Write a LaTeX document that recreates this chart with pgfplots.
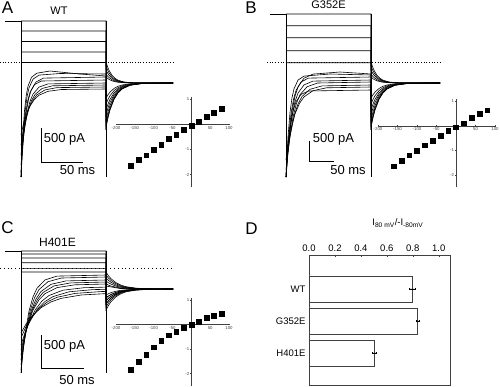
\documentclass[border=0pt]{standalone}
\usepackage{pgfplots}
\pgfplotsset{compat=1.18}
\usepackage{fontspec}
\setmainfont{Liberation Sans}
\begin{document}
\begin{tikzpicture}
\pgfplotsset{
  tr/.style={black, line width=0.6pt},
  iv/.style={anchor=south west, scale only axis, xmin=-200, xmax=100, ymin=-2.5, ymax=1.1,
    axis lines=middle, axis line style={-, line width=0.4pt, black!75},
    xtick={-200,-150,...,100}, ytick={-2,-1,0,1},
    tick style={black!75, line width=0.3pt}, major tick length=1.8pt,
    ticklabel style={font=\fontsize{4.3}{4.3}\selectfont, text=black!75, inner sep=1pt},
    /pgf/number format/assume math mode=true, clip=false},
  ivm/.style={only marks, mark=square*, mark size=2.4pt, black}
}
% ---------- traces (pixel coordinates) ----------
\begin{axis}[at={(0pt,0pt)}, anchor=south west, scale only axis, width=500pt, height=386pt,
  xmin=0, xmax=500, ymin=0, ymax=386, y dir=reverse, hide axis, clip=false]
% ===== Panel A =====
\addplot[black, line width=1pt] coordinates {(5,21)(21,21)};
\addplot[tr] coordinates {(21,21)(21,177)};
\addplot[tr] coordinates {(106,21)(106,177)};
\addplot[black, dotted, line width=0.7pt] coordinates {(0,62.5)(173,62.5)};
\addplot[tr] coordinates {(21,21)(106,21)(106,62)(107.5,66.6)(109,70.3)(112,75.3)(115,78.3)(118,80.2)(124,82)(133,82.8)(173,83)};
\addplot[tr] coordinates {(21,31)(106,31)(106,66)(107.5,69.8)(109,72.7)(112,76.7)(115,79.2)(118,80.7)(124,82.2)(133,82.8)(173,83)};
\addplot[tr] coordinates {(21,41.5)(106,41.5)(106,70)(107.5,72.9)(109,75.1)(112,78.2)(115,80.1)(118,81.2)(124,82.4)(133,82.9)(173,83)};
\addplot[tr] coordinates {(21,52)(106,52)(106,74)(107.5,76)(109,77.5)(112,79.7)(115,81)(118,81.8)(124,82.6)(133,82.9)(173,83)};
\addplot[tr] coordinates {(21,62.5)(106,62.5)(106,77)(107.5,78.3)(109,79.4)(112,80.8)(115,81.7)(118,82.2)(124,82.7)(133,82.9)(173,83)};
\addplot[tr] coordinates {(21,177)(22,154.2)(23,136.5)(25,111.9)(27,97)(29,87.9)(33,79.2)(39,75.1)(60,73.5)(106,74)(106,127)(108,117.3)(110,109.7)(114,99.2)(118,92.8)(122,88.9)(130,85.2)(142,83.5)(173,83)};
\addplot[tr] coordinates {(21,177)(22.25,154.9)(23.5,137.7)(26,113.8)(28.5,99.3)(31,90.5)(36,82)(43.5,78.1)(106,77)(106,124)(108,114.9)(110,107.9)(114,98.1)(118,92.1)(122,88.5)(130,85.1)(142,83.5)(173,83)};
\addplot[tr] coordinates {(21,172)(22.1,151.7)(23.3,135.8)(25.5,113.9)(27.8,100.5)(30,92.4)(34.5,84.6)(41.3,81)(106,80)(106,120)(108,111.8)(110,105.5)(114,96.6)(118,91.3)(122,88)(130,84.9)(142,83.4)(173,83)};
\addplot[tr] coordinates {(21,165)(22.5,146.9)(24,132.8)(27,113.2)(30,101.3)(33,94.1)(39,87.1)(48,83.9)(106,83)(106,115)(108,107.9)(110,102.4)(114,94.8)(118,90.1)(122,87.3)(130,84.6)(142,83.4)(173,83)};
\addplot[tr] coordinates {(21,155)(22.75,139.5)(24.5,127.5)(28,110.8)(31.5,100.6)(35,94.5)(42,88.5)(52.5,85.8)(106,85)(106,110)(108,104)(110,99.4)(114,92.9)(118,89)(122,86.6)(130,84.4)(142,83.3)(173,83)};
\addplot[tr] coordinates {(21,145)(23,132.2)(25,122.2)(29,108.3)(33,99.9)(37,94.8)(45,89.9)(57,87.6)(106,87)(106,104)(108,99.4)(110,95.7)(114,90.7)(118,87.7)(122,85.8)(130,84.1)(142,83.2)(173,83)};
\addplot[tr] coordinates {(21,135)(23.25,124.8)(25.5,116.9)(30,105.9)(34.5,99.3)(39,95.2)(48,91.3)(61.5,89.5)(106,89)(106,98)(108,94.7)(110,92.1)(114,88.5)(118,86.3)(122,85)(130,83.8)(142,83.2)(173,83)};
\addplot[tr] coordinates {(21,177)(21.9,153.8)(22.75,135.7)(24.5,110.6)(26.25,95.4)(28,86.2)(31.5,77.3)(36.75,73.2)(50,71)(80,74)(106,76)(106,127)(108,117.3)(110,109.7)(114,99.2)(118,92.8)(122,88.9)(130,85.2)(142,83.5)(173,83)};
\addplot[tr] coordinates {(41,128)(41,162)(83,162)};
\node[font=\fontsize{17}{17}\selectfont] at (axis cs:7.5,8) {A};
\node[font=\fontsize{11}{11}\selectfont] at (axis cs:59,10.5) {WT};
\node[font=\fontsize{13}{13}\selectfont] at (axis cs:64.5,139) {500 pA};
\node[font=\fontsize{13}{13}\selectfont] at (axis cs:77.5,170) {50 ms};
% ===== Panel B =====
\addplot[black, line width=1pt] coordinates {(270,14)(286,14)};
\addplot[tr] coordinates {(286,14)(286,177)};
\addplot[tr] coordinates {(371,14)(371,177)};
\addplot[black, dotted, line width=0.7pt] coordinates {(267,62.5)(440,62.5)};
\addplot[tr] coordinates {(286,14)(371,14)(371,62)(372.5,66.6)(374,70.3)(377,75.3)(380,78.3)(383,80.2)(389,82)(398,82.8)(440,83)};
\addplot[tr] coordinates {(286,25.7)(371,25.7)(371,66)(372.5,69.8)(374,72.7)(377,76.7)(380,79.2)(383,80.7)(389,82.2)(398,82.8)(440,83)};
\addplot[tr] coordinates {(286,37.7)(371,37.7)(371,70)(372.5,72.9)(374,75.1)(377,78.2)(380,80.1)(383,81.2)(389,82.4)(398,82.9)(440,83)};
\addplot[tr] coordinates {(286,50.7)(371,50.7)(371,74)(372.5,76)(374,77.5)(377,79.7)(380,81)(383,81.8)(389,82.6)(398,82.9)(440,83)};
\addplot[tr] coordinates {(286,62.7)(371,62.7)(371,77)(372.5,78.3)(374,79.4)(377,80.8)(380,81.7)(383,82.2)(389,82.7)(398,82.9)(440,83)};
\addplot[tr] coordinates {(286,177)(287,154.5)(288,136.9)(290,112.5)(292,97.7)(294,88.8)(298,80.1)(304,76.1)(330,74)(371,75)(371,127)(373,117.3)(375,109.7)(379,99.2)(383,92.8)(387,88.9)(395,85.2)(407,83.5)(440,83)};
\addplot[tr] coordinates {(286,177)(287.25,154.9)(288.5,137.7)(291,113.8)(293.5,99.3)(296,90.5)(301,82)(308.5,78.1)(371,77)(371,124)(373,114.9)(375,107.9)(379,98.1)(383,92.1)(387,88.5)(395,85.1)(407,83.5)(440,83)};
\addplot[tr] coordinates {(286,177)(287.5,155.6)(289,138.9)(292,115.7)(295,101.6)(298,93.1)(304,84.9)(313,81.1)(371,80)(371,120)(373,111.8)(375,105.5)(379,96.6)(383,91.3)(387,88)(395,84.9)(407,83.4)(440,83)};
\addplot[tr] coordinates {(286,177)(287.75,156)(289.5,139.7)(293,117)(296.5,103.2)(300,94.8)(307,86.8)(317.5,83)(371,82)(371,115)(373,107.9)(375,102.4)(379,94.8)(383,90.1)(387,87.3)(395,84.6)(407,83.4)(440,83)};
\addplot[tr] coordinates {(286,170)(288,151.2)(290,136.6)(294,116.3)(298,104)(302,96.5)(310,89.3)(322,85.9)(371,85)(371,110)(373,104)(375,99.4)(379,92.9)(383,89)(387,86.6)(395,84.4)(407,83.3)(440,83)};
\addplot[tr] coordinates {(286,160)(288.25,143.9)(290.5,131.3)(295,113.9)(299.5,103.3)(304,96.9)(313,90.7)(326.5,87.8)(371,87)(371,104)(373,99.4)(375,95.7)(379,90.7)(383,87.7)(387,85.8)(395,84.1)(407,83.2)(440,83)};
\addplot[tr] coordinates {(286,177)(287.25,157.8)(288.5,142.8)(291,122)(293.5,109.4)(296,101.7)(301,94.4)(308.5,91)(371,90)(371,98)(373,94.7)(375,92.1)(379,88.5)(383,86.3)(387,85)(395,83.8)(407,83.2)(440,83)};
\addplot[tr] coordinates {(286,177)(287.5,154)(289,136.1)(292,111.3)(295,96.2)(298,87)(304,78.2)(313,74.1)(340,72)(371,74)(371,127)(373,117.3)(375,109.7)(379,99.2)(383,92.8)(387,88.9)(395,85.2)(407,83.5)(440,83)};
\addplot[tr] coordinates {(309,141)(309,161)(334,161)};
\node[font=\fontsize{17}{17}\selectfont] at (axis cs:251,8) {B};
\node[font=\fontsize{11}{11}\selectfont] at (axis cs:328.5,4.5) {G352E};
\node[font=\fontsize{13}{13}\selectfont] at (axis cs:333.5,139) {500 pA};
\node[font=\fontsize{13}{13}\selectfont] at (axis cs:348,170) {50 ms};
% ===== Panel C =====
\addplot[black, line width=1pt] coordinates {(5,251)(21,251)};
\addplot[tr] coordinates {(21,251)(21,373)};
\addplot[tr] coordinates {(106,251)(106,373)};
\addplot[black, line width=0.7pt, dash pattern=on 0.8pt off 3pt] coordinates {(0,268.3)(173,268.3)};
\addplot[tr] coordinates {(21,251)(106,251)(106,272)(108.5,275.8)(111,278.7)(116,282.7)(121,285.2)(126,286.7)(136,288.2)(151,288.8)(173,289)};
\addplot[tr] coordinates {(21,254)(106,254)(106,275)(108.5,278.1)(111,280.5)(116,283.8)(121,285.9)(126,287.1)(136,288.3)(151,288.8)(173,289)};
\addplot[tr] coordinates {(21,258)(106,258)(106,278)(108.5,280.4)(111,282.3)(116,285)(121,286.5)(126,287.5)(136,288.5)(151,288.9)(173,289)};
\addplot[tr] coordinates {(21,262.7)(106,262.7)(106,281)(108.5,282.8)(111,284.1)(116,286.1)(121,287.2)(126,287.9)(136,288.6)(151,288.9)(173,289)};
\addplot[tr] coordinates {(21,268.3)(106,268.3)(106,284)(108.5,285.1)(111,286)(116,287.2)(121,287.9)(126,288.3)(136,288.8)(151,288.9)(173,289)};
\addplot[tr] coordinates {(21,272)(106,272)(106,286)(120,288.5)(173,289)};
\addplot[tr] coordinates {(21,373)(23,351.3)(25,334.5)(29,311.1)(33,296.9)(37,288.2)(45,279.9)(57,276.1)(106,275)(106,310)(108.5,305.4)(111,301.7)(116,296.7)(121,293.7)(126,291.8)(136,290.1)(151,289.2)(173,289)};
\addplot[tr] coordinates {(21,370)(23.25,349.4)(25.5,333.5)(30,311.2)(34.5,297.7)(39,289.6)(48,281.7)(61.5,278)(106,277)(106,307)(108.5,303)(111,299.9)(116,295.6)(121,293)(126,291.4)(136,289.9)(151,289.2)(173,289)};
\addplot[tr] coordinates {(21,365)(23.5,346.2)(26,331.6)(31,311.3)(36,299)(41,291.5)(51,284.3)(66,280.9)(106,280)(106,304)(108.5,300.7)(111,298.1)(116,294.5)(121,292.3)(126,291)(136,289.8)(151,289.2)(173,289)};
\addplot[tr] coordinates {(21,360)(23.75,342.8)(26.5,329.3)(32,310.7)(37.5,299.4)(43,292.5)(54,285.9)(70.5,282.9)(106,282)(106,301)(108.5,298.3)(111,296.3)(116,293.4)(121,291.7)(126,290.6)(136,289.6)(151,289.1)(173,289)};
\addplot[tr] coordinates {(21,355)(24,339.3)(27,327.1)(33,310.1)(39,299.8)(45,293.6)(57,287.6)(75,284.8)(106,284)(106,298)(108.5,296)(111,294.5)(116,292.3)(121,291)(126,290.2)(136,289.5)(151,289.1)(173,289)};
\addplot[tr] coordinates {(21,350)(24.5,336.1)(28,325.2)(35,310.2)(42,301)(49,295.5)(63,290.2)(84,287.7)(106,287.1)(106,295)(108.5,293.7)(111,292.6)(116,291.2)(121,290.3)(126,289.8)(136,289.3)(151,289.1)(173,289)};
\addplot[tr] coordinates {(21,345)(25,332.6)(29,323)(37,309.6)(45,301.5)(53,296.6)(69,291.8)(93,289.6)(106,289.3)(106,298)(108.5,296)(111,294.5)(116,292.3)(121,291)(126,290.2)(136,289.5)(151,289.1)(173,289)};
\addplot[tr] coordinates {(21,338)(25.5,327.6)(30,319.5)(39,308.3)(48,301.5)(57,297.3)(75,293.4)(102,291.5)(106,291.4)(106,301)(108.5,298.3)(111,296.3)(116,293.4)(121,291.7)(126,290.6)(136,289.6)(151,289.1)(173,289)};
\addplot[tr] coordinates {(21,333)(26,324.2)(31,317.3)(41,307.7)(51,301.9)(61,298.4)(81,295)(106,293.6)(106,304)(108.5,300.7)(111,298.1)(116,294.5)(121,292.3)(126,291)(136,289.8)(151,289.2)(173,289)};
\addplot[tr] coordinates {(41,335)(41,368)(84,368)};
\node[font=\fontsize{17}{17}\selectfont] at (axis cs:7.5,228) {C};
\node[font=\fontsize{12}{12}\selectfont] at (axis cs:57.5,242.5) {H401E};
\node[font=\fontsize{13}{13}\selectfont] at (axis cs:64.5,346) {500 pA};
\node[font=\fontsize{13}{13}\selectfont] at (axis cs:77,380) {50 ms};
\node[font=\fontsize{17}{17}\selectfont] at (axis cs:251.5,229) {D};
\end{axis}
% ---------- I-V insets ----------
\begin{axis}[iv, at={(116pt,199pt)}, width=113pt, height=90pt]
\addplot[ivm] coordinates {(-160,-1.65)(-140,-1.41)(-120,-1.23)(-100,-1.01)(-80,-0.80)(-60,-0.57)(-40,-0.40)(-20,-0.20)(0,-0.05)(20,0.12)(40,0.31)(60,0.47)(80,0.63)};
\end{axis}
\begin{axis}[iv, at={(378pt,199pt)}, width=117pt, height=88pt]
\addplot[ivm] coordinates {(-160,-1.65)(-140,-1.41)(-120,-1.20)(-100,-1.00)(-80,-0.79)(-60,-0.59)(-40,-0.40)(-20,-0.20)(0,-0.05)(20,0.11)(40,0.32)(60,0.49)(80,0.64)};
\end{axis}
\begin{axis}[iv, at={(116pt,0.2pt)}, width=113pt, height=88.3pt]
\addplot[ivm] coordinates {(-160,-1.83)(-140,-1.53)(-120,-1.22)(-100,-0.93)(-80,-0.67)(-60,-0.44)(-40,-0.30)(-20,-0.12)(0,0.0)(20,0.12)(40,0.27)(60,0.36)(80,0.44)};
\end{axis}
% ---------- Panel D bar chart ----------
\begin{axis}[at={(309pt,1pt)}, anchor=south west, scale only axis, width=141pt, height=130pt,
  xmin=0, xmax=1.087, ymin=0, ymax=4.06, xbar, bar width=0.81,
  axis line style={black!75, line width=0.5pt},
  xtick={0,0.2,...,1.0}, minor x tick num=1,
  xtick pos=upper, xticklabel pos=upper, tick align=inside,
  major tick length=2pt, minor tick length=1.2pt,
  tick style={black!75, line width=0.4pt},
  xticklabel style={/pgf/number format/.cd, fixed, fixed zerofill, precision=1},
  ytick={1,2,3}, yticklabels={H401E,G352E,WT}, ytick style={draw=none},
  ticklabel style={font=\fontsize{9.5}{9.5}\selectfont},
  /pgf/number format/assume math mode=true, clip=false]
\addplot[xbar, fill=white, draw=black!75, line width=0.5pt,
  error bars/.cd, x dir=both, x explicit,
  error bar style={line width=0.4pt, black}, error mark options={rotate=90, mark size=1.2pt, black}]
  coordinates {(0.795,3) +- (0.02,0) (0.836,2) +- (0.012,0) (0.505,1) +- (0.015,0)};
\node[font=\fontsize{9.5}{9.5}\selectfont] at (rel axis cs:0.63,1) [yshift=32pt] {I\textsubscript{80 mV}/-I\textsubscript{-80mV}};
\end{axis}
\pgfresetboundingbox
\useasboundingbox (0pt,0pt) rectangle (500pt,386pt);
\end{tikzpicture}
\end{document}
